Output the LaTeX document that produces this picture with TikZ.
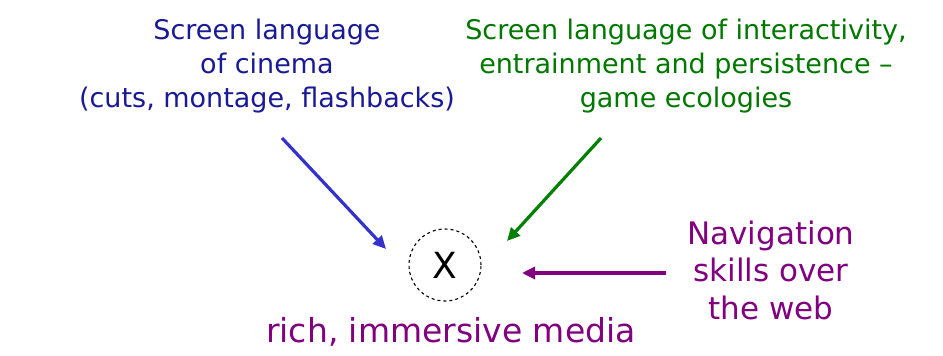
\documentclass[tikz,border=0pt]{standalone}
\usepackage{fontspec}
\setmainfont{DejaVu Sans}
\usetikzlibrary{arrows.meta}
\definecolor{tblue}{RGB}{26,26,150}
\definecolor{ablue}{RGB}{51,51,204}
\definecolor{tgreen}{RGB}{0,120,0}
\definecolor{agreen}{RGB}{0,128,0}
\definecolor{tpurple}{RGB}{128,0,128}
\tikzset{
  lbl/.style={align=center, font=\fontsize{27}{34}\selectfont, inner sep=0pt},
  big/.style={align=center, font=\fontsize{31}{37.5}\selectfont, inner sep=0pt},
  conn/.style={line width=3.2pt, -{Triangle[length=13pt,width=12pt]}},
}
\begin{document}
\begin{tikzpicture}[x=1pt,y=-1pt]
\useasboundingbox[fill=white] (0,0) rectangle (943,356);
\node[lbl, text=tblue] (cinema) at (267,66) {Screen language\\of cinema\\(cuts, montage, flashbacks)};
\node[lbl, text=tgreen] (game) at (686,66) {Screen language of interactivity,\\entrainment and persistence –\\game ecologies};
\node[big, text=tpurple] (nav) at (771,270) {Navigation\\skills over\\the web};
\node[draw, circle, line width=1.1pt, dash pattern=on 3pt off 3pt, minimum size=72pt, inner sep=0pt, font=\fontsize{36}{36}\selectfont] (x) at (445,265) {X};
\node[big, text=tpurple, font=\fontsize{33}{38}\selectfont] (rich) at (451,332) {rich, immersive media};
\coordinate (b1) at (282,138);
\coordinate (b2) at (386,249);
\coordinate (g1) at (601,138);
\coordinate (g2) at (507,241);
\coordinate (p1) at (666,273);
\coordinate (p2) at (522,273);
\draw[conn, ablue] (b1) -- (b2);
\draw[conn, agreen] (g1) -- (g2);
\draw[conn, tpurple] (p1) -- (p2);
\end{tikzpicture}
\end{document}
